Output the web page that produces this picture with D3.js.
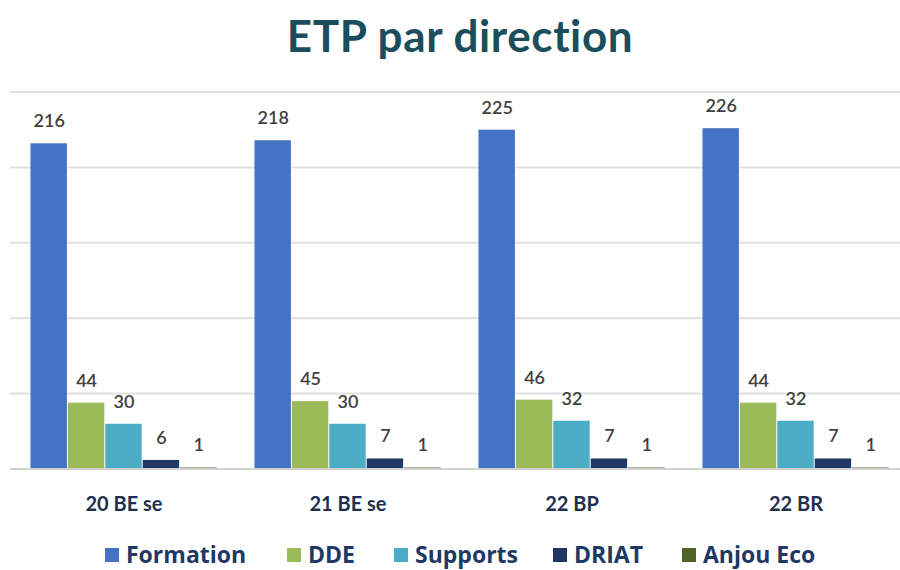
<!DOCTYPE html>
<html><head><meta charset="utf-8">
<script src="https://cdn.jsdelivr.net/npm/d3@7"></script>
<style>body{margin:0;background:#fff}svg{display:block}</style>
</head><body>
<svg id="c" width="900" height="570"></svg>
<script>
const categories = ["20 BE se","21 BE se","22 BP","22 BR"];
const seriesNames = ["Formation","DDE","Supports","DRIAT","Anjou Eco"];
const formation = [216,218,225,226];
const dde = [44,45,46,44];
const supports = [30,30,32,32];
const driat = [6,7,7,7];
const anjouEco = [1,1,1,1];
const yTicks = [0,50,100,150,200,250];
const colors = ["#4472C4","#9BBB59","#4BACC6","#1F3864","#4F6228"];

const seriesValues = [formation,dde,supports,driat,anjouEco];
const svg = d3.select("#c");
const font = "Lato, 'Open Sans', sans-serif";
const font2 = "'Open Sans', Lato, sans-serif";

const x0 = d3.scaleBand().domain(categories).range([12,908]).paddingInner(0.165).paddingOuter(0.0825);
const x1 = d3.scaleBand().domain(seriesNames).range([0,x0.bandwidth()]).padding(0);
const y = d3.scaleLinear().domain([0,250]).range([469,92]);

// gridlines
svg.append("g").selectAll("line").data(yTicks).join("line")
  .attr("x1",10).attr("x2",900).attr("y1",d=>y(d)).attr("y2",d=>y(d))
  .attr("stroke","#e0e0e0").attr("stroke-width",2);

// bars
const g = svg.append("g").selectAll("g").data(categories).join("g")
  .attr("transform",c=>`translate(${x0(c)},0)`);
g.selectAll("rect").data((c,i)=>seriesNames.map((s,k)=>({s,k,v:seriesValues[k][i]}))).join("rect")
  .attr("x",d=>x1(d.s)).attr("width",x1.bandwidth()-1)
  .attr("y",d=>y(d.v)).attr("height",d=>y(0)-y(d.v))
  .attr("fill",d=>colors[d.k]);
g.selectAll("text").data((c,i)=>seriesNames.map((s,k)=>({s,k,v:seriesValues[k][i]}))).join("text")
  .attr("x",d=>x1(d.s)+x1.bandwidth()/2)
  .attr("y",d=>y(d.v)-16)
  .attr("text-anchor","middle")
  .attr("font-family",font).attr("font-size",18).attr("font-weight",600)
  .attr("fill","#404040")
  .text(d=>d.v);

// baseline
svg.append("line").attr("x1",10).attr("x2",900).attr("y1",y(0)).attr("y2",y(0))
  .attr("stroke","#d0d0d0").attr("stroke-width",2);

// x axis labels
const xa = svg.append("g").attr("transform",`translate(0,${y(0)})`)
  .call(d3.axisBottom(x0).tickSize(0).tickPadding(0));
xa.select(".domain").remove();
xa.selectAll("text").attr("dy",0).attr("y",42)
  .attr("font-family",font).attr("font-size",20).attr("font-weight",700).attr("fill","#1F2F4F");

// title
svg.append("text").attr("x",460).attr("y",52).attr("text-anchor","middle")
  .attr("font-family",font).attr("font-size",44).attr("font-weight",700)
  .attr("letter-spacing",0.6)
  .attr("fill","#1B4D5C").text("ETP par direction");

// legend
const legX = [105,287,394,553,682];
const lg = svg.append("g").selectAll("g").data(seriesNames).join("g")
  .attr("transform",(d,i)=>`translate(${legX[i]},563)`);
lg.append("rect").attr("x",0).attr("y",-15).attr("width",14).attr("height",14).attr("fill",(d,i)=>colors[i]);
lg.append("text").attr("x",21).attr("y",0)
  .attr("font-family",font2).attr("font-size",23).attr("font-weight",700)
  .attr("fill","#203864").text(d=>d);
</script>
</body></html>
